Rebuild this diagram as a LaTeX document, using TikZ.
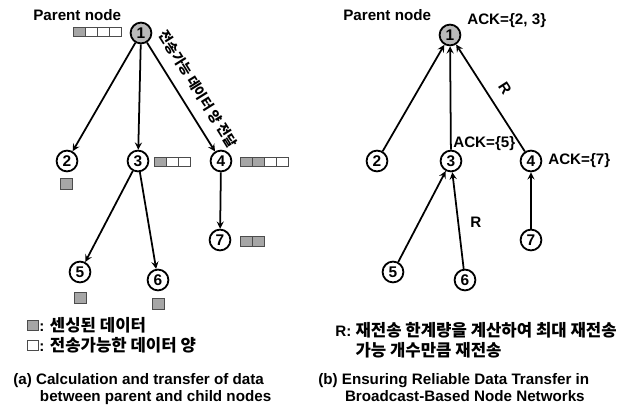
\documentclass[tikz,border=0pt]{standalone}
\usepackage{fontspec}
\setmainfont{Liberation Sans}
\newfontfamily\kr[Scale=1.1]{Noto Sans CJK KR}
\usepackage{tikz}
\usetikzlibrary{arrows}

\tikzset{
  sensor/.style={circle,draw,line width=1.3pt,fill=white,inner sep=0pt,minimum size=0.52cm,font=\fontsize{11}{12}\selectfont\bfseries},
  root/.style={sensor,fill=gray!55},
  cellg/.style={draw=gray!60!black,fill=gray!70,line width=0.5pt},
  cellw/.style={draw=gray!60!black,fill=white,line width=0.5pt},
  link/.style={->,>=stealth,line width=1.25pt},
  txt/.style={font=\fontsize{10.8}{14}\selectfont\bfseries,inner sep=0pt}
}

\begin{document}
\begin{tikzpicture}[x=0.025cm,y=-0.025cm]
\useasboundingbox (0,0) rectangle (624,410);

% (a) left tree
\node[txt,anchor=west] (para) at (33,15) {Parent node};
\node[root] (a1) at (141,33) {1};
\node[sensor] (a2) at (67,161) {2};
\node[sensor] (a3) at (138,161) {3};
\node[sensor] (a4) at (221,161) {4};
\node[sensor] (a7) at (220,240) {7};
\node[sensor] (a5) at (80,272) {5};
\node[sensor] (a6) at (158,280) {6};

\draw [link] (a1) -- (a2);
\draw [link] (a1) -- (a3);
\draw [link] (a1) -- node [sloped,above=8pt,pos=0.52,txt,font=\fontsize{8.8}{11}\selectfont\kr\bfseries] {전송가능 데이터 양 전달} (a4);
\draw [link] (a3) -- (a5);
\draw [link] (a3) -- (a6);
\draw [link] (a4) -- (a7);

% data cells
\draw[cellg] (73,27) rectangle ++(12,9);
\foreach \i in {1,2,3} \draw[cellw] ({73+12*\i},27) rectangle ++(12,9);
\draw[cellg] (154,157) rectangle ++(12,9);
\foreach \i in {1,2} \draw[cellw] ({154+12*\i},157) rectangle ++(12,9);
\foreach \i in {0,1} \draw[cellg] ({240+12*\i},157) rectangle ++(12,9);
\foreach \i in {2,3} \draw[cellw] ({240+12*\i},157) rectangle ++(12,9);
\foreach \i in {0,1} \draw[cellg] ({240+12*\i},236) rectangle ++(12,10);
\draw[cellg] (60,178) rectangle ++(12,11);
\draw[cellg] (74,292) rectangle ++(12,11);
\draw[cellg] (152,298) rectangle ++(12,11);

% legend (a)
\draw[cellg] (27,320) rectangle ++(11,10);
\node[txt,anchor=west] (lega) at (39,325) {: {\kr 센싱된 데이터}};
\draw[cellw] (27,340) rectangle ++(11,10);
\node[txt,anchor=west] (legb) at (39,345) {: {\kr 전송가능한 데이터 양}};

\node[txt,anchor=north west,align=left,font=\fontsize{10.8}{12.2}\selectfont\bfseries] (capa) at (13,373)
  {(a) Calculation and transfer of data\\\hspace*{19pt}between parent and child nodes};

% (b) right tree
\node[txt,anchor=west] (parb) at (343,15) {Parent node};
\node[root] (b1) at (450,35) {1};
\node[sensor] (b2) at (377,161) {2};
\node[sensor] (b3) at (451,161) {3};
\node[sensor] (b4) at (531,161) {4};
\node[sensor] (b7) at (531,240) {7};
\node[sensor] (b5) at (393,272) {5};
\node[sensor] (b6) at (465,280) {6};

\node[txt,anchor=west] (ack1) at (467,21) {ACK=\{2, 3\}};
\node[txt,anchor=west] (ack3) at (453,144) {ACK=\{5\}};
\node[txt,anchor=west] (ack4) at (548,161) {ACK=\{7\}};

\draw [link] (b2) -- (b1);
\draw [link] (b3) -- (b1);
\draw [link] (b4) -- node [sloped,above=8pt,pos=0.5,txt] {R} (b1);
\draw [link] (b5) -- (b3);
\draw [link] (b6) -- node [right=8pt,pos=0.48,txt] {R} (b3);
\draw [link] (b7) -- (b4);

% legend (b)
\node[txt,anchor=west,align=left] (legr) at (335,340)
  {R: {\kr 재전송 한계량을 계산하여 최대 재전송}\\\phantom{R:\ }{\kr 가능 개수만큼 재전송}};

\node[txt,anchor=north west,align=left,font=\fontsize{10.8}{12.2}\selectfont\bfseries] (capb) at (318,373)
  {(b) Ensuring Reliable Data Transfer in\\\hspace*{19pt}Broadcast-Based Node Networks};
\end{tikzpicture}
\end{document}
